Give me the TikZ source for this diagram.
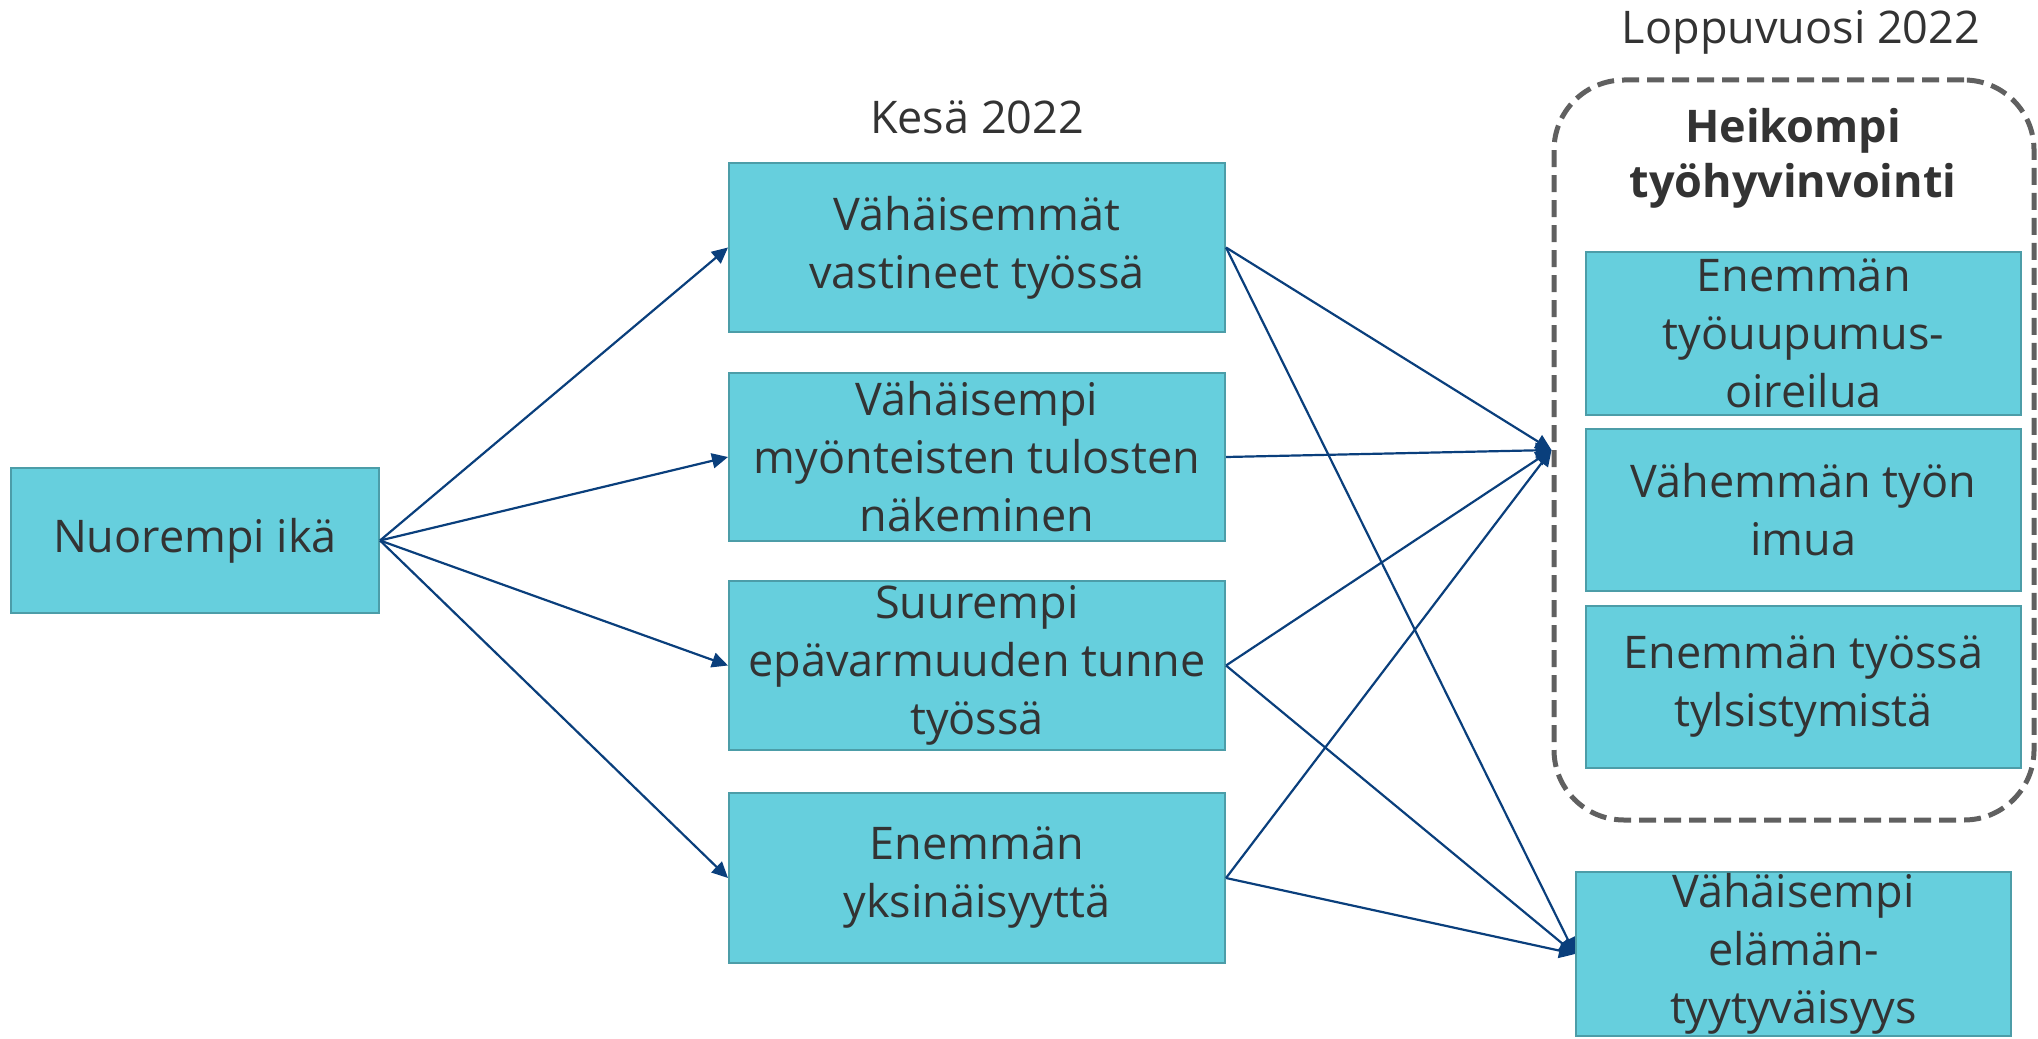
\documentclass[tikz,border=0pt]{standalone}
\usepackage{fontspec}
\setmainfont{Open Sans}
\usetikzlibrary{arrows.meta}
\definecolor{boxfill}{HTML}{66CFDD}
\definecolor{boxline}{HTML}{4C9DA8}
\definecolor{arrowc}{HTML}{0A3F7C}
\definecolor{txtc}{HTML}{333333}
\definecolor{dashc}{HTML}{606060}
\tikzset{
  boxnode/.style={draw=boxline, fill=boxfill, line width=1pt, rectangle, inner sep=0pt},
  boxtext/.style={text=txtc, align=center, inner sep=0pt, font=\fontsize{22.5}{29}\selectfont},
  headtext/.style={text=txtc, align=center, inner sep=0pt, font=\fontsize{22.5}{29}\selectfont},
  boldtext/.style={text=txtc, align=center, inner sep=0pt, font=\fontsize{22.5}{27.5}\selectfont\bfseries},
  groupbox/.style={draw=dashc, line width=2.5pt, dash pattern=on 8.5pt off 4pt, rounded corners=35pt, rectangle, inner sep=0pt},
  arr/.style={draw=arrowc, line width=1.1pt, -{Triangle[length=8pt,width=7.5pt]}},
}
\begin{document}
\begin{tikzpicture}[x=0.5pt,y=-0.5pt]
\useasboundingbox (0,0) rectangle (2038,1038);

% left node
\node[boxnode, minimum width=184pt, minimum height=72.5pt,
      label={[boxtext]center:Nuorempi ikä}] (n0) at (195,540.5) {};

% middle column
\node[headtext] (kesa) at (977,117) {Kesä 2022};
\node[boxnode, minimum width=248pt, minimum height=84.5pt,
      label={[boxtext]center:Vähäisemmät\\vastineet työssä}] (b1) at (977,247.5) {};
\node[boxnode, minimum width=248pt, minimum height=84pt,
      label={[boxtext]center:Vähäisempi\\myönteisten tulosten\\näkeminen}] (b2) at (977,457) {};
\node[boxnode, minimum width=248pt, minimum height=84.5pt,
      label={[boxtext]center:Suurempi\\epävarmuuden tunne\\työssä}] (b3) at (977,665.5) {};
\node[boxnode, minimum width=248pt, minimum height=85pt,
      label={[boxtext]center:Enemmän\\yksinäisyyttä}] (b4) at (977,878) {};

% right group
\node[headtext] (loppu) at (1801,32) {Loppuvuosi 2022};
\node[groupbox, minimum width=240pt, minimum height=370pt] (grp) at (1794,450) {};
\node[boldtext] (heik) at (1793,158) {Heikompi\\työhyvinvointi};
\node[boxnode, minimum width=217.5pt, minimum height=81.5pt,
      label={[boxtext]center:Enemmän\\työuupumus-\\oireilua}] (ra) at (1803.5,333.5) {};
\node[boxnode, minimum width=217.5pt, minimum height=81.25pt,
      label={[boxtext]center:Vähemmän työn\\imua}] (rb) at (1803.5,510) {};
\node[boxnode, minimum width=217.5pt, minimum height=81.25pt,
      label={[boxtext]center:Enemmän työssä\\tylsistymistä}] (rc) at (1803.5,687) {};
\node[boxnode, minimum width=217.5pt, minimum height=81.75pt,
      label={[boxtext]center:Vähäisempi\\elämän-\\tyytyväisyys}] (re) at (1793.5,954) {};

% connectors
\draw[arr] (n0.east) -- (b1.west);
\draw[arr] (n0.east) -- (b2.west);
\draw[arr] (n0.east) -- (b3.west);
\draw[arr] (n0.east) -- (b4.west);

\draw[arr] (b1.east) -- (grp.west);
\draw[arr] (b2.east) -- (grp.west);
\draw[arr] (b3.east) -- (grp.west);
\draw[arr] (b4.east) -- (grp.west);

\draw[arr] (b1.east) -- (re.west);
\draw[arr] (b3.east) -- (re.west);
\draw[arr] (b4.east) -- (re.west);
\end{tikzpicture}
\end{document}
